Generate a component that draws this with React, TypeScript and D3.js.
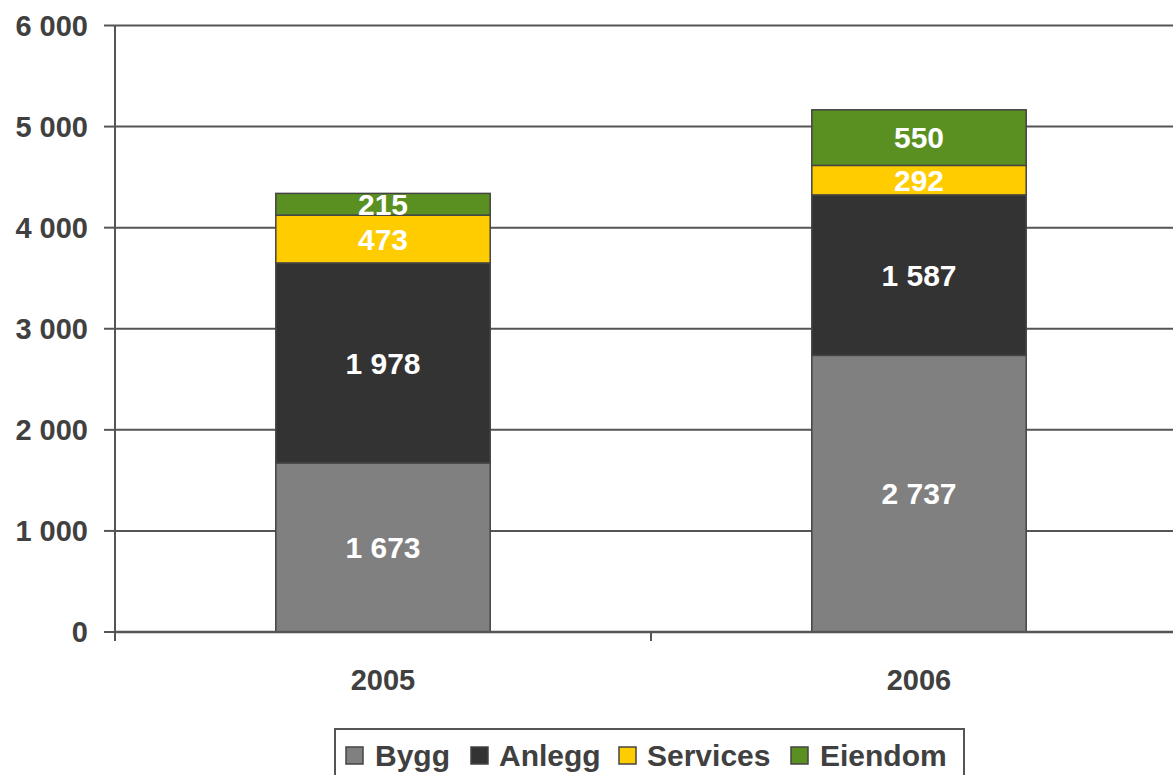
import React from 'react'
import * as d3 from 'd3'

// Chart data
const years = ['2005', '2006']
const seriesNames = ['Bygg', 'Anlegg', 'Services', 'Eiendom']
const bygg = [1673, 2737]
const anlegg = [1978, 1587]
const services = [473, 292]
const eiendom = [215, 550]
const yTicks = [0, 1000, 2000, 3000, 4000, 5000, 6000]

const colors: Record<string, string> = {
  Bygg: '#808080',
  Anlegg: '#333333',
  Services: '#FFCC00',
  Eiendom: '#5A8F22'
}

const W = 1173
const H = 775
const FONT = '"Liberation Sans", Arial, sans-serif'
const TEXT = '#404040'
const LINE = '#555555'

const fmt = (v: number) => d3.format(',')(v).replace(/,/g, ' ')

const App = () => {
  const rows = years.map((year, i) => ({
    year,
    Bygg: bygg[i],
    Anlegg: anlegg[i],
    Services: services[i],
    Eiendom: eiendom[i]
  }))

  const stacked = d3.stack<any>().keys(seriesNames)(rows)

  const x = d3.scaleBand()
    .domain(years)
    .range([115, 1187])
    .paddingInner(0.6)
    .paddingOuter(0.3)

  const y = d3.scaleLinear()
    .domain([0, 6000])
    .range([632, 25.5])

  const step = x.step()
  const boundaries = [115, 115 + step]

  // legend layout
  const legendItems = [
    { name: 'Bygg', sx: 346, tx: 375 },
    { name: 'Anlegg', sx: 471, tx: 499 },
    { name: 'Services', sx: 619, tx: 647 },
    { name: 'Eiendom', sx: 791, tx: 820 }
  ]

  return (
    <svg width={W} height={H} style={{ position: 'absolute', left: 0, top: 0, background: '#fff' }}
      fontFamily={FONT}>
      {/* gridlines + y tick labels */}
      {yTicks.map(t => (
        <g key={t}>
          {t > 0 && (
            <line x1={115} x2={W} y1={y(t)} y2={y(t)} stroke={LINE} strokeWidth={2} />
          )}
          <line x1={104} x2={115} y1={y(t)} y2={y(t)} stroke={LINE} strokeWidth={2} />
          <text x={88} y={y(t)} dy="0.36em" textAnchor="end" fontSize={29} fontWeight="bold" fill={TEXT}>
            {fmt(t)}
          </text>
        </g>
      ))}

      {/* bars */}
      {stacked.map(layer => (
        <g key={layer.key}>
          {layer.map((d, i) => {
            const x0 = x(years[i]) as number
            const yTop = y(d[1])
            const yBot = y(d[0])
            const val = d[1] - d[0]
            return (
              <g key={i}>
                <rect x={x0} y={yTop} width={x.bandwidth()} height={yBot - yTop}
                  fill={colors[layer.key]} stroke="#444" strokeWidth={1.5} />
                <text x={x0 + x.bandwidth() / 2} y={(yTop + yBot) / 2} dy="0.36em"
                  textAnchor="middle" fontSize={30} fontWeight="bold" fill="#fff">
                  {fmt(val)}
                </text>
              </g>
            )
          })}
        </g>
      ))}

      {/* axes */}
      <line x1={115} x2={115} y1={25.5} y2={641} stroke={LINE} strokeWidth={2} />
      <line x1={115} x2={W} y1={632} y2={632} stroke={LINE} strokeWidth={2.5} />
      {boundaries.map(b => (
        <line key={b} x1={b} x2={b} y1={632} y2={641} stroke={LINE} strokeWidth={2} />
      ))}
      {years.map(yr => (
        <text key={yr} x={(x(yr) as number) + x.bandwidth() / 2} y={690} textAnchor="middle"
          fontSize={29} fontWeight="bold" fill={TEXT}>
          {yr}
        </text>
      ))}

      {/* legend */}
      <rect x={335} y={729} width={629} height={60} fill="#fff" stroke={LINE} strokeWidth={2} />
      {legendItems.map(it => (
        <g key={it.name}>
          <rect x={it.sx} y={747} width={17} height={17} fill={colors[it.name]} stroke="#444" strokeWidth={1.5} />
          <text x={it.tx} y={766} fontSize={30} fontWeight="bold" fill={TEXT}>{it.name}</text>
        </g>
      ))}
    </svg>
  )
}

export default App
